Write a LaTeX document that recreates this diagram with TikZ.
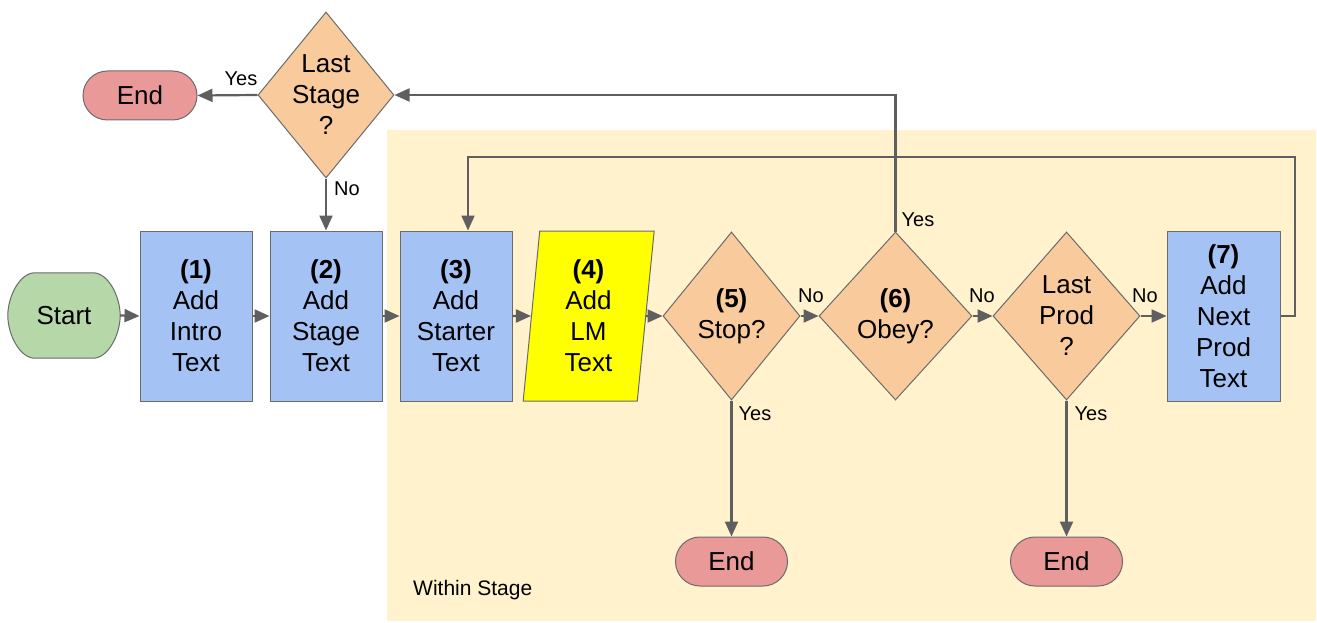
\documentclass[tikz,border=0pt]{standalone}
\usepackage{fontspec}
\setmainfont{Liberation Sans}
\usetikzlibrary{shapes.geometric,shapes.misc,arrows.meta}
\pgfdeclarelayer{background}
\pgfsetlayers{background,main}
\definecolor{boxblue}{HTML}{A4C2F4}
\definecolor{decorange}{HTML}{F9CB9C}
\definecolor{endred}{HTML}{EA9999}
\definecolor{startgreen}{HTML}{B6D7A8}
\definecolor{lmyellow}{HTML}{FFFF00}
\definecolor{bgyellow}{HTML}{FFF2CC}
\definecolor{bordergray}{HTML}{6B6B6B}
\definecolor{linegray}{HTML}{5F5F5F}
\begin{document}
\begin{tikzpicture}[x=1pt,y=-1pt,
  big/.style={font=\fontsize{26}{31}\selectfont, align=center, text=black},
  outline/.style={draw=bordergray, line width=1pt},
  procbox/.style={big, outline, fill=boxblue, minimum width=112pt, minimum height=170pt, inner sep=0pt},
  lmbox/.style={big, outline, fill=lmyellow, trapezium, trapezium left angle=81.6, trapezium right angle=98.6, trapezium stretches body, minimum width=131pt, minimum height=170pt, inner sep=0pt},
  decision/.style={big, outline, fill=decorange, diamond, inner sep=-4pt, minimum height=168pt},
  terminal/.style={big, outline, rounded rectangle, inner sep=0pt, minimum height=49pt, minimum width=113pt, rounded rectangle arc length=180},
  lbl/.style={font=\fontsize{20}{24}\selectfont, inner sep=0pt, anchor=base},
  arr/.style={draw=linegray, line width=2.2pt, -{Triangle[length=15pt,width=13pt]}}
]
\useasboundingbox (0,0) rectangle (1317,623);
% background for "Within Stage"
\fill[bgyellow] (387,130) rectangle (1316,621);
\node[font=\fontsize{21}{25}\selectfont, inner sep=0pt, anchor=base west] (within) at (413,595) {Within Stage};

% nodes
\node[big, inner sep=0pt, minimum width=112pt, minimum height=85pt] (start) at (64,315.5) {Start};
\begin{pgfonlayer}{background}
\draw[outline, fill=startgreen]
  ([xshift=27pt]start.north west) -- ([xshift=-27pt]start.north east)
  .. controls ([xshift=-12pt]start.north east) and ([yshift=19pt]start.east) .. (start.east)
  .. controls ([yshift=-19pt]start.east) and ([xshift=-12pt]start.south east) .. ([xshift=-27pt]start.south east)
  -- ([xshift=27pt]start.south west)
  .. controls ([xshift=12pt]start.south west) and ([yshift=-19pt]start.west) .. (start.west)
  .. controls ([yshift=19pt]start.west) and ([xshift=12pt]start.north west) .. cycle;
\end{pgfonlayer}
\node[procbox] (b1) at (196,316) {\textbf{(1)}\\Add\\Intro\\Text};
\node[procbox] (b2) at (326,316) {\textbf{(2)}\\Add\\Stage\\Text};
\node[procbox] (b3) at (456,316) {\textbf{(3)}\\Add\\Starter\\Text};
\node[lmbox] (b4) at (588.5,316) {\textbf{(4)}\\Add\\LM\\Text};
\node[decision, minimum width=137pt] (d5) at (731.5,316) {\textbf{(5)}\\Stop?};
\node[decision, minimum width=153pt] (d6) at (895.5,316) {\textbf{(6)}\\Obey?};
\node[decision, minimum width=147pt] (d7) at (1066.5,316) {Last\\Prod\\?};
\node[procbox, minimum width=113pt] (b7) at (1223.5,316) {\textbf{(7)}\\Add\\Next\\Prod\\Text};
\node[decision, minimum width=136pt, minimum height=166pt] (ls) at (326,95) {Last\\Stage\\?};
\node[terminal, fill=endred, minimum width=114pt] (endA) at (140,95.5) {End};
\node[terminal, fill=endred, minimum width=112pt] (endB) at (731.5,561.5) {End};
\node[terminal, fill=endred, minimum width=112pt] (endC) at (1066.5,561.5) {End};

% connectors
\draw[arr] (start.east) -- (b1.west);
\draw[arr] (b1.east) -- (b2.west);
\draw[arr] (b2.east) -- (b3.west);
\draw[arr] (b3.east) -- (b4.west);
\draw[arr] (b4.east) -- (d5.west);
\draw[arr] (d5.east) -- (d6.west);
\draw[arr] (d6.east) -- (d7.west);
\draw[arr] (d7.east) -- (b7.west);
\draw[arr] (d5.south) -- (endB.north);
\draw[arr] (d7.south) -- (endC.north);
\draw[arr] (ls.west) -- (endA.east);
\draw[arr] (ls.south) -- (b2.north);
\draw[arr] (d6.north) |- (ls.east);
\coordinate (loopTop) at (1295,157);
\coordinate (b3in) at ([xshift=12pt]b3.north);
\draw[arr] (b7.east) -| (loopTop) -| (b3in);

% labels
\node[lbl] (yesLS) at (241,86) {Yes};
\node[lbl] (noLS) at (347,195) {No};
\node[lbl] (no5) at (811,302) {No};
\node[lbl] (no6) at (982,302) {No};
\node[lbl] (no7) at (1145,302) {No};
\node[lbl] (yes6) at (918,226) {Yes};
\node[lbl] (yes5) at (755,420) {Yes};
\node[lbl] (yes7) at (1091,420) {Yes};
\end{tikzpicture}
\end{document}
